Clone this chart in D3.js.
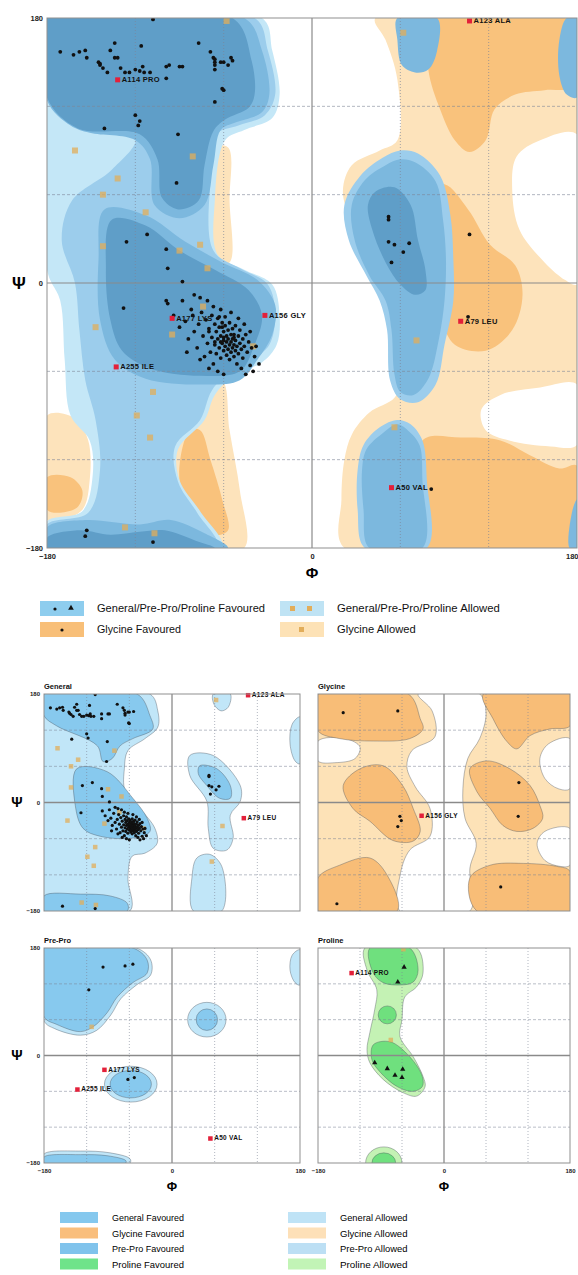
<!DOCTYPE html>
<html>
<head>
<meta charset="utf-8">
<script src="https://cdn.jsdelivr.net/npm/d3@7"></script>
<style>
body { margin: 0; background: #fff; }
text { font-family: "Liberation Sans", Arial, sans-serif; }
</style>
</head>
<body>
<div id="chart"></div>
<script>
// ---- data (phi, psi in degrees) ----
var tickVals = [-180, 0, 180];
var gridVals = [-120, -60, 60, 120];

// main plot contours
var mainGlyAllowed = [
  [[43,180],[180,180],[180,-180],[22,-180],[20,-147],[22,-120],[27,-103],[39,-88],[56,-78],[60,-66],[54,-32],[48,-5],[39,19],[26,43],[21,63],[27,80],[46,90],[58,97],[58,138],[50,165]],
  [[-180,-90],[-161,-92],[-152,-107],[-151,-134],[-156,-154],[-171,-161],[-180,-161]],
  [[-69,92],[-57,92],[-56,56],[-56,14],[-66,14],[-68,56]],
  [[-73,-66],[-61,-66],[-56,-100],[-49,-141],[-46,-180],[-76,-180],[-96,-141],[-93,-107],[-76,-86]]
];
var mainHoles = [
  [[180,101],[155,97],[139,86],[136,63],[141,36],[158,14],[172,2],[180,-1]],
  [[180,-69],[155,-71],[128,-76],[115,-86],[118,-100],[134,-107],[162,-111],[180,-110]]
];
var mainGlyFav = [
  [[80,180],[180,180],[180,134],[158,131],[138,128],[124,118],[118,97],[107,89],[97,97],[87,118],[79,145]],
  [[77,62],[90,67],[106,50],[121,26],[138,12],[143,-8],[136,-32],[118,-46],[97,-42],[88,-25],[82,2],[77,29]],
  [[75,-107],[101,-105],[128,-107],[148,-117],[168,-126],[180,-124],[180,-180],[77,-180]],
  [[-180,-132],[-164,-132],[-156,-141],[-159,-152],[-171,-156],[-180,-154]],
  [[-83,-100],[-76,-100],[-69,-120],[-61,-147],[-57,-168],[-66,-171],[-79,-158],[-90,-134]]
];
var mainBluePale = [
  [[-180,180],[-34,180],[-27,158],[-22,128],[-27,112],[-46,104],[-59,97],[-66,56],[-64,19],[-46,9],[-27,-1],[-22,-22],[-24,-42],[-34,-54],[-52,-62],[-66,-76],[-73,-93],[-91,-113],[-90,-134],[-76,-155],[-61,-180],[-180,-180],[-180,-162],[-156,-155],[-149,-131],[-151,-107],[-164,-90],[-168,-52],[-171,-12],[-180,9]]
];
var mainBlueAllowed = [
  [[-180,180],[-39,180],[-30,158],[-25,128],[-32,114],[-50,107],[-65,101],[-69,70],[-67,22],[-49,10],[-30,-1],[-25,-22],[-29,-42],[-39,-51],[-54,-59],[-68,-73],[-76,-93],[-93,-111],[-91,-135],[-78,-156],[-64,-180],[-180,-180],[-180,-164],[-152,-156],[-144,-127],[-147,-93],[-154,-66],[-158,-32],[-161,0],[-170,29],[-163,56],[-136,77],[-120,98],[-158,107],[-180,128]],
  [[60,90],[72,88],[87,73],[94,46],[96,16],[96,-12],[90,-42],[84,-69],[72,-81],[60,-79],[53,-66],[51,-32],[46,-12],[37,5],[25,29],[22,53],[33,73],[48,85]],
  [[58,-93],[67,-96],[75,-107],[78,-134],[78,-180],[36,-180],[31,-154],[31,-127],[35,-110],[46,-98]]
];
var mainBlueFav = [
  [[-180,180],[-46,180],[-34,158],[-29,128],[-34,116],[-52,109],[-62,104],[-67,80],[-73,53],[-90,44],[-107,53],[-110,84],[-120,97],[-151,102],[-164,107],[-180,124]],
  [[-141,50],[-113,46],[-86,28],[-61,14],[-37,2],[-25,-15],[-27,-35],[-37,-52],[-49,-66],[-76,-69],[-113,-65],[-134,-52],[-144,-25],[-145,16]],
  [[-180,-166],[-154,-161],[-117,-164],[-96,-161],[-73,-170],[-57,-180],[-180,-180]],
  [[180,180],[173,180],[168,165],[168,141],[173,128],[180,126]],
  [[180,-147],[177,-154],[175,-180],[180,-180]],
  [[60,84],[70,82],[84,69],[89,43],[91,16],[90,-12],[86,-39],[79,-65],[69,-76],[60,-74],[56,-62],[54,-32],[50,-12],[39,5],[29,29],[27,53],[36,70],[50,80]],
  [[58,180],[85,180],[85,158],[79,145],[70,143],[61,148],[58,165]],
  [[58,-96],[65,-100],[73,-110],[75,-134],[75,-180],[39,-180],[35,-154],[34,-127],[37,-113],[48,-102]]
];
var mainBlueCore = [
  [[-180,180],[-54,180],[-41,151],[-39,128],[-43,119],[-59,111],[-67,103],[-73,80],[-77,56],[-91,50],[-102,58],[-105,84],[-117,101],[-159,105],[-180,126]],
  [[-136,43],[-113,39],[-90,22],[-66,9],[-43,-5],[-34,-22],[-39,-42],[-49,-60],[-76,-63],[-110,-58],[-129,-46],[-137,-25],[-140,9]],
  [[-180,-173],[-158,-168],[-137,-171],[-117,-169],[-100,-168],[-79,-175],[-66,-180],[-180,-180]],
  [[43,62],[56,65],[67,53],[72,29],[77,9],[77,-5],[70,-8],[60,-1],[50,14],[41,36],[38,53]]
];

// small panel contours
var generalAllowed = [
  [[-180,180],[-31,180],[-20,152],[-20,125],[-38,106],[-62,86],[-67,56],[-66,20],[-45,-10],[-24,-43],[-21,-68],[-38,-84],[-56,-89],[-62,-125],[-59,-180],[-180,-180]],
  [[25,78],[58,78],[96,28],[96,2],[82,-21],[86,-59],[77,-79],[58,-76],[51,-43],[49,2],[25,45]],
  [[58,180],[82,180],[79,158],[69,152],[59,163]],
  [[35,-92],[53,-86],[70,-106],[70,-180],[30,-180],[28,-125]],
  [[180,142],[169,130],[166,97],[173,69],[180,64]]
];
var generalFav = [
  [[-180,180],[-49,180],[-31,144],[-27,122],[-55,106],[-73,94],[-84,73],[-97,68],[-105,94],[-162,127],[-180,144]],
  [[-134,56],[-91,51],[-55,7],[-35,-26],[-31,-48],[-55,-59],[-101,-56],[-125,-43],[-136,-5]],
  [[-180,-155],[-129,-152],[-87,-155],[-63,-167],[-63,-180],[-180,-180]],
  [[39,61],[63,56],[82,28],[82,7],[67,7],[49,28],[37,48]]
];
var glycineAllowed = [
  [[-180,-180],[-180,180],[180,180],[180,-180]]
];
var glycineHoles = [
  [[-37,180],[51,180],[60,147],[51,106],[34,73],[27,23],[30,-26],[46,-68],[37,-109],[37,-180],[-63,-180],[-63,-122],[-49,-79],[-20,-56],[-20,-10],[-41,26],[-53,59],[-46,86],[-13,109],[-17,152]],
  [[-180,102],[-141,106],[-120,92],[-127,73],[-156,66],[-180,69]],
  [[180,106],[149,97],[137,73],[144,40],[163,23],[180,23]],
  [[180,-43],[144,-48],[133,-68],[144,-96],[166,-106],[180,-104]]
];
var glycineFav = [
  [[-180,180],[-51,180],[-34,139],[-30,122],[-49,106],[-101,102],[-149,106],[-180,119]],
  [[-144,28],[-120,56],[-87,61],[-59,28],[-44,-10],[-34,-48],[-44,-64],[-73,-63],[-106,-31],[-130,-10]],
  [[-180,-125],[-149,-104],[-106,-92],[-81,-121],[-67,-180],[-180,-180]],
  [[56,180],[180,180],[180,127],[151,122],[123,111],[104,89],[90,101],[70,139]],
  [[37,56],[61,69],[94,56],[123,28],[137,-5],[141,-26],[127,-43],[104,-48],[84,-38],[66,-10],[47,18]],
  [[37,-125],[66,-104],[113,-101],[161,-106],[180,-114],[180,-180],[47,-180]]
];
var preProAllowed = [
  [[-180,180],[-50,180],[-30,160],[-30,135],[-50,118],[-72,95],[-86,68],[-106,42],[-129,34],[-165,45],[-180,58]],
  [[-180,-165],[-129,-160],[-87,-163],[-59,-173],[-59,-180],[-180,-180]],
  [[180,177],[169,168],[166,143],[173,122],[180,118]]
];
var preProFav = [
  [[-180,180],[-55,180],[-35,160],[-35,138],[-55,122],[-77,98],[-91,72],[-111,48],[-129,40],[-162,52],[-180,65]],
  [[-180,-170],[-129,-166],[-90,-168],[-65,-176],[-65,-180],[-180,-180]]
];
// blobs: [phi, psi, radius phi, radius psi]
var preProAllowedBlobs = [[49, 60, 27, 29], [-58, -48, 37, 30]];
var preProFavBlobs = [[49, 60, 15, 18], [-58, -48, 29, 23]];
var prolineAllowed = [
  [[-113,180],[-39,180],[-30,138],[-39,115],[-56,98],[-60,60],[-63,32],[-44,-2],[-30,-35],[-27,-52],[-39,-68],[-59,-62],[-87,-40],[-106,-12],[-110,10],[-106,38],[-99,77],[-96,110],[-110,143]]
];
var prolineFav = [
  [[-106,180],[-49,180],[-37,143],[-44,123],[-63,118],[-87,122],[-101,138]],
  [[-101,18],[-77,23],[-49,-2],[-31,-35],[-31,-52],[-44,-60],[-67,-52],[-91,-28],[-103,-7]]
];
var prolineAllowedBlobs = [[-86, -180, 26, 27]];
var prolineFavBlobs = [[-81, 68, 13, 15], [-86, -180, 17, 17]];

// residues
var generalFavPts = [
  [-171,157],[-162,155],[-158,157],[-154,158],[-153,153],[-145,150],[-144,148],[-142,146],[-139,143],[-134,163],
  [-137,158],[-134,153],[-132,153],[-130,146],[-127,143],[-124,143],[-120,145],[-117,144],[-115,147],[-114,143],
  [-110,143],[-108,179],[-116,161],[-99,147],[-99,139],[-90,147],[-88,147],[-77,163],[-69,157],[-67,153],
  [-66,148],[-66,145],[-62,150],[-60,150],[-54,151],[-61,132],[-60,131],[-120,114],[-118,107],[-141,105],
  [-91,101],[-92,68],[-126,28],[-112,33],[-99,23],[-98,10],[-88,1],[-128,-17],[-98,-14],[-76,-10],[-71,-12],
  [-154,-172],[-108,-176],
  [52,45],[52,43],[52,28],[56,26],[62,21],[66,27],[54,14],
  [-94,-22],[-90,-30],[-86,-26],[-84,-38],[-82,-18],[-80,-33],[-78,-44],[-77,-28],[-75,-20],[-74,-36],
  [-73,-50],[-72,-25],[-71,-41],[-70,-31],[-69,-47],[-68,-22],[-68,-37],[-67,-55],[-66,-28],[-66,-42],
  [-65,-33],[-65,-48],[-64,-38],[-64,-24],[-63,-44],[-63,-30],[-62,-51],[-62,-36],[-61,-41],[-61,-27],
  [-60,-46],[-60,-33],[-60,-39],[-59,-43],[-59,-29],[-58,-36],[-58,-49],[-58,-40],[-57,-45],[-57,-32],
  [-57,-38],[-56,-42],[-56,-27],[-56,-52],[-55,-35],[-55,-47],[-55,-40],[-54,-44],[-54,-31],[-54,-38],
  [-53,-50],[-53,-42],[-53,-35],[-52,-46],[-52,-29],[-52,-39],[-51,-43],[-51,-55],[-50,-36],[-50,-48],
  [-49,-41],[-49,-32],[-48,-45],[-48,-58],[-47,-38],[-47,-51],[-46,-43],[-45,-35],[-45,-62],[-44,-47],
  [-43,-40],[-42,-56],[-41,-44],[-40,-60],[-39,-50],[-64,-60],[-60,-62],[-70,-58],[-76,-52],[-85,-47],
  [-88,-12],[-80,-8],[-67,-16],[-62,-18],[-55,-20],[-50,-24],[-46,-28],[-42,-33],[-38,-43],[-36,-55]
];
var glycineFavPts = [[-144,149],[-66,152],[-61,-30],[-63,-23],[-66,-40],[107,33],[106,-23],[81,-140],[-153,-168]];
var preProFavPts = [[-97,148],[-66,150],[-55,153],[-117,110],[-62,-40],[-53,-37]];
var prolineFavPts = [[-66,123],[-57,148],[-99,-12],[-81,-22],[-59,-23],[-70,-33],[-60,-37]];
var generalAllowedPts = [
  [62,170],[-161,90],[-132,71],[-142,60],[-81,86],[-142,25],[-90,22],[-71,10],[-147,-30],[-95,-35],
  [-74,-16],[-40,-43],[-108,-74],[-119,-90],[-110,-105],[-127,-166],[-107,-170],[71,-39],[56,-98]
];
var preProAllowedPts = [[-113,48]];
var prolineAllowedPts = [[-58,178],[-76,26]];
var outliers = [
  { phi: -132, psi: 138, label: "A114 PRO", type: "pro" },
  { phi: 107, psi: 178, label: "A123 ALA", type: "gen" },
  { phi: -32, psi: -22, label: "A156 GLY", type: "gly" },
  { phi: -95, psi: -24, label: "A177 LYS", type: "pre" },
  { phi: -133, psi: -57, label: "A255 ILE", type: "pre" },
  { phi: 101, psi: -26, label: "A79 LEU", type: "gen" },
  { phi: 54, psi: -139, label: "A50 VAL", type: "pre" }
];

var legendMain = [
  ["General/Pre-Pro/Proline Favoured", "General/Pre-Pro/Proline Allowed"],
  ["Glycine Favoured", "Glycine Allowed"]
];
var legendBottomLeft = ["General Favoured", "Glycine Favoured", "Pre-Pro Favoured", "Proline Favoured"];
var legendBottomRight = ["General Allowed", "Glycine Allowed", "Pre-Pro Allowed", "Proline Allowed"];

// ---- drawing ----
var svg = d3.select("#chart").append("svg")
    .attr("width", 578)
    .attr("height", 1275);

var clipCount = 0;

function makeScales(box) {
  return {
    box: box,
    x: d3.scaleLinear().domain([-180, 180]).range([box.left, box.left + box.width]),
    y: d3.scaleLinear().domain([-180, 180]).range([box.top + box.height, box.top])
  };
}

function clipped(s) {
  var id = "clip" + (clipCount++);
  svg.append("clipPath").attr("id", id).append("rect")
      .attr("x", s.box.left).attr("y", s.box.top)
      .attr("width", s.box.width).attr("height", s.box.height);
  return svg.append("g").attr("clip-path", "url(#" + id + ")");
}

function shapes(g, s, data, fill, stroke) {
  var line = d3.line()
      .x(d => s.x(d[0]))
      .y(d => s.y(d[1]))
      .curve(d3.curveCatmullRomClosed.alpha(0.5));
  g.selectAll(null).data(data).enter().append("path")
      .attr("d", line)
      .attr("fill", fill)
      .attr("stroke", stroke || "none")
      .attr("stroke-width", 0.7);
}

function blobs(g, s, data, fill, stroke) {
  g.selectAll(null).data(data).enter().append("ellipse")
      .attr("cx", d => s.x(d[0]))
      .attr("cy", d => s.y(d[1]))
      .attr("rx", d => s.x(d[0] + d[2]) - s.x(d[0]))
      .attr("ry", d => s.y(d[1] - d[3]) - s.y(d[1]))
      .attr("fill", fill)
      .attr("stroke", stroke || "none")
      .attr("stroke-width", 0.7);
}

function grid(g, s, big) {
  var col = "#7d8597";
  g.selectAll(null).data(gridVals).enter().append("line")
      .attr("x1", s.box.left).attr("x2", s.box.left + s.box.width)
      .attr("y1", d => s.y(d)).attr("y2", d => s.y(d))
      .attr("stroke", col).attr("stroke-width", big ? 0.8 : 0.7)
      .attr("stroke-dasharray", "3,2").attr("opacity", 0.75);
  g.selectAll(null).data(gridVals).enter().append("line")
      .attr("y1", s.box.top).attr("y2", s.box.top + s.box.height)
      .attr("x1", d => s.x(d)).attr("x2", d => s.x(d))
      .attr("stroke", col).attr("stroke-width", big ? 0.9 : 0.8)
      .attr("stroke-dasharray", "1,2").attr("opacity", 0.75);
  g.append("line")
      .attr("x1", s.x(0)).attr("x2", s.x(0))
      .attr("y1", s.box.top).attr("y2", s.box.top + s.box.height)
      .attr("stroke", "#8a8a8a").attr("stroke-width", big ? 1.2 : 1.3);
  g.append("line")
      .attr("y1", s.y(0)).attr("y2", s.y(0))
      .attr("x1", s.box.left).attr("x2", s.box.left + s.box.width)
      .attr("stroke", "#8a8a8a").attr("stroke-width", big ? 1.2 : 1.3);
}

function border(s) {
  svg.append("rect")
      .attr("x", s.box.left).attr("y", s.box.top)
      .attr("width", s.box.width).attr("height", s.box.height)
      .attr("fill", "none").attr("stroke", "#8f8f8f").attr("stroke-width", 1);
}

function favDots(g, s, data, r) {
  g.selectAll(null).data(data).enter().append("circle")
      .attr("cx", d => s.x(d[0])).attr("cy", d => s.y(d[1]))
      .attr("r", r).attr("fill", "#111");
}

function allowedDots(g, s, data, size) {
  g.selectAll(null).data(data).enter().append("rect")
      .attr("x", d => s.x(d[0]) - size / 2).attr("y", d => s.y(d[1]) - size / 2)
      .attr("width", size).attr("height", size)
      .attr("fill", "#e2ad5a").attr("opacity", 0.75);
}

function outlierMarks(g, s, data, size, fontSize) {
  g.selectAll(null).data(data).enter().append("rect")
      .attr("x", d => s.x(d.phi) - size / 2).attr("y", d => s.y(d.psi) - size / 2)
      .attr("width", size).attr("height", size)
      .attr("fill", "#e3203a");
  g.selectAll(null).data(data).enter().append("text")
      .attr("x", d => s.x(d.phi) + size / 2 + 1.5)
      .attr("y", d => s.y(d.psi) + fontSize * 0.3)
      .attr("font-size", fontSize).attr("font-weight", "bold").attr("fill", "#111")
      .attr("letter-spacing", 0.3)
      .text(d => d.label);
}

function yLabels(s, fontSize, psiSize, showX, showY, endLast) {
  if (showY) {
    var ax = d3.axisLeft(s.y).tickValues(tickVals).tickSize(0).tickPadding(4);
    var ag = svg.append("g").attr("transform", "translate(" + s.box.left + ",0)").call(ax);
    ag.select(".domain").remove();
    ag.selectAll("text").attr("font-size", fontSize).attr("font-weight", "bold")
        .attr("font-family", "Liberation Sans, Arial, sans-serif").attr("fill", "#222");
    svg.append("text").attr("x", s.box.left - 23 - psiSize * 0.3).attr("y", s.y(0) + psiSize * 0.35)
        .attr("text-anchor", "middle").attr("font-size", psiSize).attr("font-weight", "bold")
        .attr("font-family", "DejaVu Sans, sans-serif").text("\u03a8");
  }
  if (showX) {
    var bx = d3.axisBottom(s.x).tickValues(tickVals).tickSize(0).tickPadding(6);
    var bg = svg.append("g").attr("transform", "translate(0," + (s.box.top + s.box.height) + ")").call(bx);
    bg.select(".domain").remove();
    bg.selectAll("text").attr("font-size", fontSize).attr("font-weight", "bold")
        .attr("font-family", "Liberation Sans, Arial, sans-serif").attr("fill", "#222");
    if (endLast) {
      bg.selectAll(".tick text").filter(d => d === 180).attr("text-anchor", "end").attr("dx", 1);
    }
    svg.append("text").attr("x", s.x(0)).attr("y", s.box.top + s.box.height + 21 + psiSize * 0.5)
        .attr("text-anchor", "middle").attr("font-size", psiSize * 0.9).attr("font-weight", "bold")
        .attr("font-family", "DejaVu Sans, sans-serif").text("\u03a6");
  }
}

// ---- main plot ----
var main = makeScales({ left: 47, top: 18, width: 530, height: 530 });
var mg = clipped(main);
shapes(mg, main, mainGlyAllowed, "#fde3bb");
shapes(mg, main, mainHoles, "#ffffff");
shapes(mg, main, mainGlyFav, "#f9c27c");
shapes(mg, main, mainBluePale, "#c4e7f7");
shapes(mg, main, mainBlueAllowed, "#9ccdec");
shapes(mg, main, mainBlueFav, "#7cb8de");
shapes(mg, main, mainBlueCore, "#5f9ec8");
grid(mg, main, true);
allowedDots(mg, main, generalAllowedPts.concat(preProAllowedPts, prolineAllowedPts), 6);
favDots(mg, main, generalFavPts.concat(glycineFavPts, preProFavPts, prolineFavPts), 1.9);
outlierMarks(svg, main, outliers, 5, 7.5);
border(main);
yLabels(main, 7.5, 17, true, true, true);

// main legend
var lg = svg.append("g");
var swMain = [["#8ecdee", "#bfe3f4"], ["#f8bf78", "#fde2b6"]];
legendMain.forEach(function(row, i) {
  var yy = 601 + i * 21;
  row.forEach(function(label, j) {
    var xx = j === 0 ? 40 : 280;
    lg.append("rect").attr("x", xx).attr("y", yy).attr("width", 44).attr("height", 15).attr("fill", swMain[i][j]);
    lg.append("text").attr("x", xx + 57).attr("y", yy + 11).attr("font-size", 10)
        .attr("textLength", label.length * 5.25).attr("lengthAdjust", "spacingAndGlyphs")
        .attr("fill", "#111").text(label);
  });
});
lg.append("circle").attr("cx", 55).attr("cy", 609).attr("r", 1.6).attr("fill", "#111");
lg.append("path").attr("d", d3.symbol(d3.symbolTriangle, 14)()).attr("transform", "translate(71,608)").attr("fill", "#111");
lg.append("rect").attr("x", 290).attr("y", 606).attr("width", 5).attr("height", 5).attr("fill", "#e2ad5a");
lg.append("rect").attr("x", 307).attr("y", 606).attr("width", 5).attr("height", 5).attr("fill", "#e2ad5a");
lg.append("circle").attr("cx", 62).attr("cy", 630).attr("r", 1.6).attr("fill", "#111");
lg.append("rect").attr("x", 299).attr("y", 627).attr("width", 5).attr("height", 5).attr("fill", "#e2ad5a");

// ---- small panels ----
var outline = "rgba(70,80,90,0.55)";
function panelTitle(s, t) {
  svg.append("text").attr("x", s.box.left).attr("y", s.box.top - 5)
      .attr("font-size", 7.5).attr("font-weight", "bold").attr("fill", "#111").text(t);
}

var gen = makeScales({ left: 44, top: 694, width: 256, height: 217 });
var gg = clipped(gen);
shapes(gg, gen, generalAllowed, "#c1e6f8", outline);
shapes(gg, gen, generalFav, "#87c9ee", outline);
grid(gg, gen, false);
allowedDots(gg, gen, generalAllowedPts, 4.5);
favDots(gg, gen, generalFavPts, 1.6);
outlierMarks(svg, gen, outliers.filter(d => d.type === "gen"), 4.5, 6.5);
border(gen);
panelTitle(gen, "General");
yLabels(gen, 6, 14, false, true);

var gly = makeScales({ left: 318, top: 694, width: 252, height: 217 });
var yg = clipped(gly);
shapes(yg, gly, glycineAllowed, "#fde2b7");
shapes(yg, gly, glycineHoles, "#ffffff", outline);
shapes(yg, gly, glycineFav, "#f8bd77", outline);
grid(yg, gly, false);
favDots(yg, gly, glycineFavPts, 1.6);
outlierMarks(svg, gly, outliers.filter(d => d.type === "gly"), 4.5, 6.5);
border(gly);
panelTitle(gly, "Glycine");

var pre = makeScales({ left: 44, top: 948, width: 256, height: 215 });
var pg = clipped(pre);
shapes(pg, pre, preProAllowed, "#c1e6f8", outline);
blobs(pg, pre, preProAllowedBlobs, "#c1e6f8", outline);
shapes(pg, pre, preProFav, "#87c9ee", outline);
blobs(pg, pre, preProFavBlobs, "#87c9ee", outline);
grid(pg, pre, false);
allowedDots(pg, pre, preProAllowedPts, 4.5);
favDots(pg, pre, preProFavPts, 1.6);
outlierMarks(svg, pre, outliers.filter(d => d.type === "pre"), 4.5, 6.5);
border(pre);
panelTitle(pre, "Pre-Pro");
yLabels(pre, 6, 14, true, true);

var pro = makeScales({ left: 318, top: 948, width: 252, height: 215 });
var rg = clipped(pro);
shapes(rg, pro, prolineAllowed, "#c4f2b4", outline);
blobs(rg, pro, prolineAllowedBlobs, "#c4f2b4", outline);
shapes(rg, pro, prolineFav, "#6fe07e", outline);
blobs(rg, pro, prolineFavBlobs, "#6fe07e", outline);
grid(rg, pro, false);
allowedDots(rg, pro, prolineAllowedPts, 4.5);
rg.selectAll(null).data(prolineFavPts).enter().append("path")
    .attr("d", d3.symbol(d3.symbolTriangle, 12)())
    .attr("transform", d => "translate(" + pro.x(d[0]) + "," + pro.y(d[1]) + ")")
    .attr("fill", "#111");
outlierMarks(svg, pro, outliers.filter(d => d.type === "pro"), 4.5, 6.5);
border(pro);
panelTitle(pro, "Proline");
yLabels(pro, 6, 14, true, false);

// bottom legend
var swLeft = ["#85c8ee", "#f9be7c", "#80c3ec", "#6fe38a"];
var swRight = ["#bfe3f6", "#fde0b8", "#bcdff4", "#c2f4b6"];
var bl = svg.append("g");
legendBottomLeft.forEach(function(label, i) {
  var yy = 1212 + i * 15.5;
  bl.append("rect").attr("x", 60).attr("y", yy).attr("width", 38).attr("height", 11).attr("fill", swLeft[i]);
  bl.append("text").attr("x", 112).attr("y", yy + 9).attr("font-size", 8.5)
      .attr("textLength", label.length * 4.5).attr("lengthAdjust", "spacingAndGlyphs").text(label);
});
legendBottomRight.forEach(function(label, i) {
  var yy = 1212 + i * 15.5;
  bl.append("rect").attr("x", 288).attr("y", yy).attr("width", 38).attr("height", 11).attr("fill", swRight[i]);
  bl.append("text").attr("x", 340).attr("y", yy + 9).attr("font-size", 8.5)
      .attr("textLength", label.length * 4.5).attr("lengthAdjust", "spacingAndGlyphs").text(label);
});
</script>
</body>
</html>
